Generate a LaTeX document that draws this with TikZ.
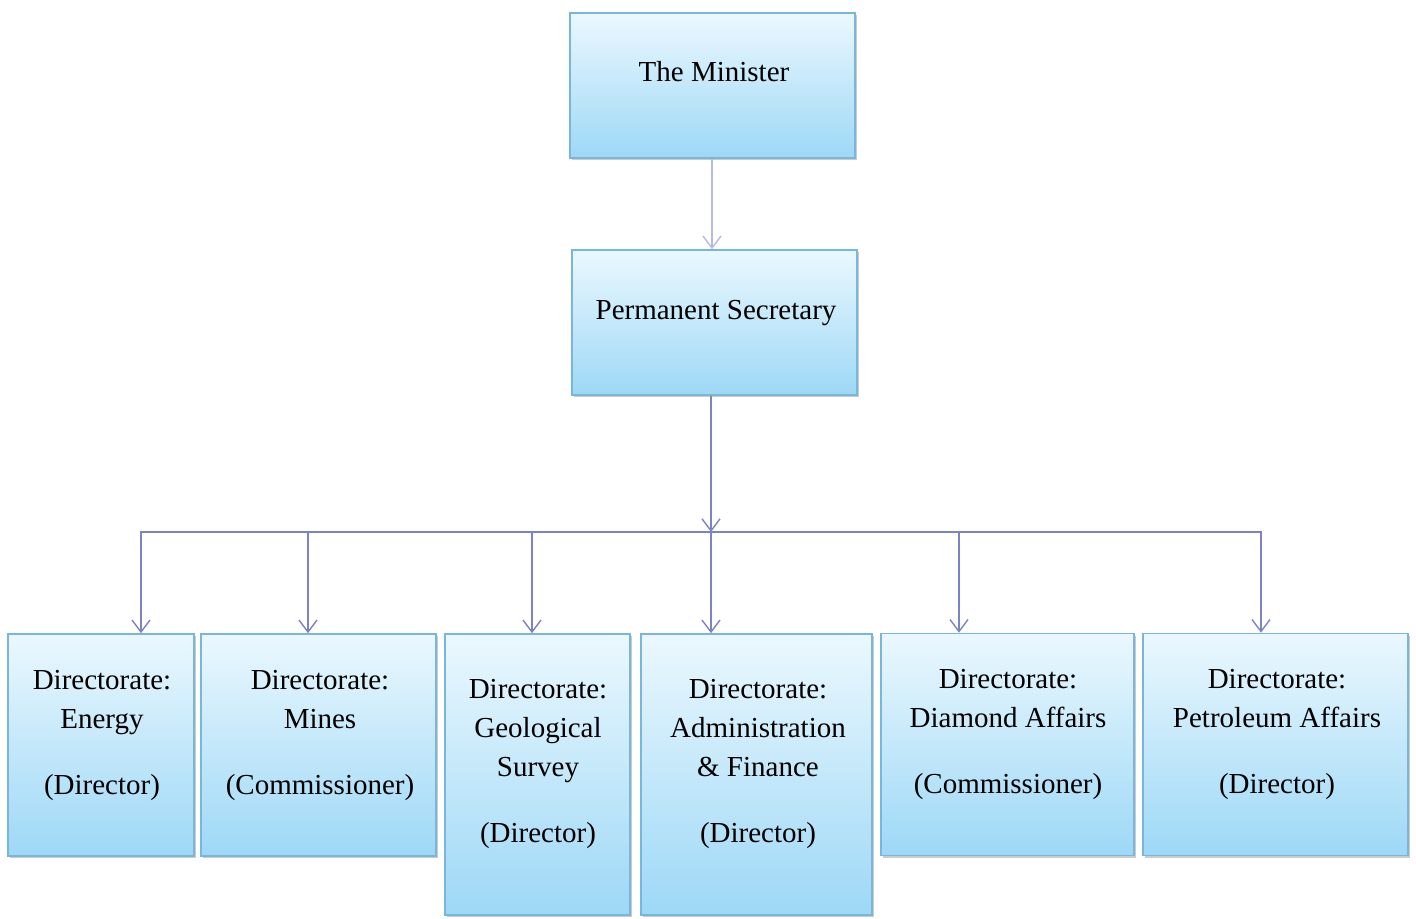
\documentclass[tikz,border=0pt]{standalone}
\usepackage{fontspec}
\setmainfont{Liberation Serif}
\usetikzlibrary{arrows.meta,shadows}

\definecolor{boxtop}{HTML}{EBF8FE}
\definecolor{boxbottom}{HTML}{9DD8F6}
\definecolor{boxline}{HTML}{79B6DC}
\definecolor{linkcol}{HTML}{7B83C6}
\definecolor{linklight}{HTML}{B6BBE1}

\begin{document}
\begin{tikzpicture}[x=0.5pt,y=-0.5pt,>={Straight Barb[length=6pt,width=9pt]},
  orgbox/.style={rectangle,draw=boxline,line width=0.8pt,top color=boxtop,bottom color=boxbottom,
    drop shadow={shadow xshift=1.2pt,shadow yshift=-1.2pt,fill=black!45,opacity=0.45},
    minimum height=72.5pt,inner sep=0pt},
  dirbox/.style={orgbox,minimum height=111pt},
  tallbox/.style={orgbox,minimum height=140.5pt},
  boxtext/.style={align=center,inner sep=0pt,font=\fontsize{14.5pt}{19.5pt}\selectfont},
  link/.style={->,draw=linkcol,line width=0.7pt}]

\useasboundingbox (0,0) rectangle (1416,919);

% top of the chart
\node[orgbox,minimum width=142.5pt] (minister) at (712.5,85.5) {};
\node[orgbox,minimum width=142.5pt] (ps) at (714.5,322.5) {};

\node[boxtext] (minister-txt) at (714,72) {The Minister};
\node[boxtext] (ps-txt) at (716,313) {Permanent Secretary};

% directorates
\node[dirbox,minimum width=93pt]    (energy)  at (101,745)    {};
\node[dirbox,minimum width=117.5pt] (mines)   at (318.5,745)  {};
\node[tallbox,minimum width=92.5pt] (geo)     at (537.5,774.5){};
\node[tallbox,minimum width=115.5pt](admin)   at (756.5,774.5){};
\node[dirbox,minimum width=126.5pt] (diamond) at (1007.5,744.5){};
\node[dirbox,minimum width=132.5pt] (petro)   at (1275.5,744.5){};

\node[boxtext] (energy-txt)  at (102,735)  {Directorate:\\Energy\\[13.5pt](Director)};
\node[boxtext] (mines-txt)   at (320,735)  {Directorate:\\Mines\\[13.5pt](Commissioner)};
\node[boxtext] (geo-txt)     at (538,764)  {Directorate:\\Geological\\Survey\\[13.5pt](Director)};
\node[boxtext] (admin-txt)   at (758,764)  {Directorate:\\Administration\\\& Finance\\[13.5pt](Director)};
\node[boxtext] (diamond-txt) at (1008,734) {Directorate:\\Diamond Affairs\\[13.5pt](Commissioner)};
\node[boxtext] (petro-txt)   at (1277,734) {Directorate:\\Petroleum Affairs\\[13.5pt](Director)};

% connectors
\coordinate (bus) at (711,532);

\draw[link,draw=linklight] (minister.south -| 712,0) -- (ps.north -| 712,0);
\draw[link] (ps.south -| bus) -- (bus);

\draw[link] (bus) -| ([xshift=20pt]energy.north);
\draw[link] (bus) -| ([xshift=-5.25pt]mines.north);
\draw[link] (bus) -| ([xshift=-2.75pt]geo.north);
\draw[link] (bus) -- (bus |- admin.north);
\draw[link] (bus) -| ([xshift=-24.25pt]diamond.north);
\draw[link] (bus) -| ([xshift=-7.25pt]petro.north);

\end{tikzpicture}
\end{document}
